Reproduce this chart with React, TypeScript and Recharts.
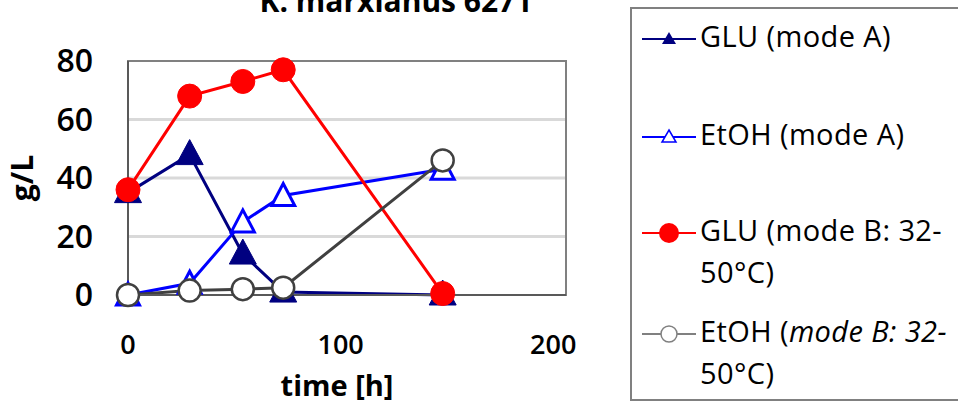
import React from 'react'
import {
  LineChart,
  Line,
  XAxis,
  YAxis,
  CartesianGrid,
  ReferenceArea,
  Legend,
  Label,
} from 'recharts'

// sampling times [h]
const times = [0, 29, 54, 73, 148]
// concentrations [g/L]
const gluA = [35, 48, 14, 1, 0]
const etohA = [0, 4, 25, 34, 43]
const gluB = [36, 68, 73, 77, 0.5]
const etohB = [0, 1.5, 2, 2.5, 46]

const xTicks = [0, 100, 200]
const yTicks = [0, 20, 40, 60, 80]
const xMax = 206

const data = times.map((t, i) => ({
  t,
  gluA: gluA[i],
  etohA: etohA[i],
  gluB: gluB[i],
  etohB: etohB[i],
}))

const FONT = '"Open Sans", sans-serif'

function Triangle({ cx, cy, fill, stroke, w, up, down, sw }: any) {
  if (cx == null || cy == null) return null
  const d = `M${cx},${cy - up} L${cx + w / 2},${cy + down} L${cx - w / 2},${cy + down} Z`
  return <path d={d} fill={fill} stroke={stroke} strokeWidth={sw} strokeLinejoin="miter" />
}

const navyDot = (p: any) => (
  <Triangle key={`na-${p.index}`} cx={p.cx} cy={p.cy} w={27} up={15} down={10} fill="#000080" stroke="#000080" sw={1} />
)
const blueDot = (p: any) => (
  <Triangle key={`bl-${p.index}`} cx={p.cx} cy={p.cy} w={23} up={12} down={10} fill="#fff" stroke="#0000ff" sw={3} />
)
const redDot = (p: any) =>
  p.cx == null ? null : <circle key={`rd-${p.index}`} cx={p.cx} cy={p.cy} r={12} fill="#ff0000" stroke="#ff0000" strokeWidth={1} />
const whiteDot = (p: any) =>
  p.cx == null ? null : <circle key={`wh-${p.index}`} cx={p.cx} cy={p.cy} r={11} fill="#fff" stroke="#404040" strokeWidth={2.5} />

const legendItems = [
  { key: 'gluA', lines: [<>GLU (mode A)</>], color: '#000080', marker: 'tri' },
  { key: 'etohA', lines: [<>EtOH (mode A)</>], color: '#0000ff', marker: 'tri-open' },
  { key: 'gluB', lines: [<>GLU (mode B: 32-</>, <>50°C)</>], color: '#ff0000', marker: 'circle' },
  {
    key: 'etohB',
    lines: [<>EtOH (<i>mode B: 32-</i></>, <>50°C)</>],
    color: '#808080',
    marker: 'circle-open',
  },
]

function LegendIcon({ color, marker }: { color: string; marker: string }) {
  return (
    <svg width={58} height={24} style={{ flex: 'none', marginTop: 8 }}>
      <line x1={2} y1={12} x2={56} y2={12} stroke={color} strokeWidth={2} />
      {marker === 'tri' && <path d="M29,5 L36,17 L22,17 Z" fill={color} />}
      {marker === 'tri-open' && <path d="M29,5 L36,17 L22,17 Z" fill="#fff" stroke={color} strokeWidth={1.5} />}
      {marker === 'circle' && <circle cx={29} cy={12} r={10} fill={color} />}
      {marker === 'circle-open' && <circle cx={29} cy={12} r={8} fill="#fff" stroke={color} strokeWidth={1.5} />}
    </svg>
  )
}

// legend box: its right side runs off the picture, as in the source figure
function ChartLegend() {
  const tops = [10, 108, 204, 305]
  return (
    <div
      style={{
        position: 'absolute',
        left: 630,
        top: 7,
        width: 340,
        height: 394,
        borderTop: '2px solid #808080',
        borderBottom: '2px solid #808080',
        borderLeft: '2px solid #808080',
        boxSizing: 'border-box',
        background: '#fff',
      }}
    >
      {legendItems.map((it, i) => (
        <div
          key={it.key}
          style={{ position: 'absolute', left: 8, top: tops[i], display: 'flex', alignItems: 'flex-start' }}
        >
          <LegendIcon color={it.color} marker={it.marker} />
          <div
            style={{
              fontFamily: FONT,
              fontSize: 29,
              letterSpacing: 0.4,
              lineHeight: '42px',
              color: '#000',
              whiteSpace: 'nowrap',
              marginLeft: 2,
              marginTop: -4,
            }}
          >
            {it.lines.map((l, j) => (
              <div key={j}>{l}</div>
            ))}
          </div>
        </div>
      ))}
    </div>
  )
}

export default function App() {
  return (
    <div style={{ position: 'fixed', left: 0, top: 0, width: 958, height: 418, overflow: 'hidden', background: '#fff' }}>
      <div
        style={{
          position: 'absolute',
          left: 396,
          top: -14,
          transform: 'translateX(-50%)',
          fontFamily: FONT,
          fontWeight: 700,
          fontSize: 30,
          lineHeight: '30px',
          whiteSpace: 'nowrap',
        }}
      >
        K. marxianus 6271
      </div>
      <LineChart width={958} height={418} data={data} margin={{ top: 61, right: 392, bottom: 0, left: 0 }}>
        <CartesianGrid vertical={false} stroke="#d9d9d9" strokeWidth={3} horizontalValues={[20, 40, 60]} />
        <ReferenceArea x1={0} x2={xMax} y1={0} y2={80} fill="none" stroke="#808080" strokeWidth={2} />
        <XAxis
          dataKey="t"
          type="number"
          domain={[0, xMax]}
          ticks={xTicks}
          height={123}
          tickLine={false}
          tickSize={0}
          tickMargin={40}
          stroke="#595959"
          strokeWidth={2}
          tick={{ fontFamily: FONT, fontSize: 27, fontWeight: 600, fill: '#000' }}
        >
          <Label
            value="time [h]"
            position="insideBottom"
            offset={22}
            dx={-10}
            style={{ fontFamily: FONT, fontSize: 29, fontWeight: 700, fill: '#000' }}
          />
        </XAxis>
        <YAxis
          type="number"
          domain={[0, 80]}
          ticks={yTicks}
          width={128}
          tickLine={false}
          tickSize={0}
          tickMargin={35}
          stroke="#595959"
          strokeWidth={2}
          tick={{ fontFamily: FONT, fontSize: 32, fontWeight: 600, fill: '#000' }}
        >
          <Label
            value="g/L"
            angle={-90}
            position="insideLeft"
            offset={22}
            style={{ fontFamily: FONT, fontSize: 30, fontWeight: 700, fill: '#000', textAnchor: 'middle' }}
          />
        </YAxis>
        <Line dataKey="gluA" name="GLU (mode A)" stroke="#000080" strokeWidth={3} dot={navyDot} isAnimationActive={false} />
        <Line dataKey="etohA" name="EtOH (mode A)" stroke="#0000ff" strokeWidth={3} dot={blueDot} isAnimationActive={false} />
        <Line dataKey="gluB" name="GLU (mode B: 32-50°C)" stroke="#ff0000" strokeWidth={3} dot={redDot} isAnimationActive={false} />
        <Line dataKey="etohB" name="EtOH (mode B: 32-50°C)" stroke="#404040" strokeWidth={3} dot={whiteDot} isAnimationActive={false} />
      </LineChart>
      <ChartLegend />
    </div>
  )
}
